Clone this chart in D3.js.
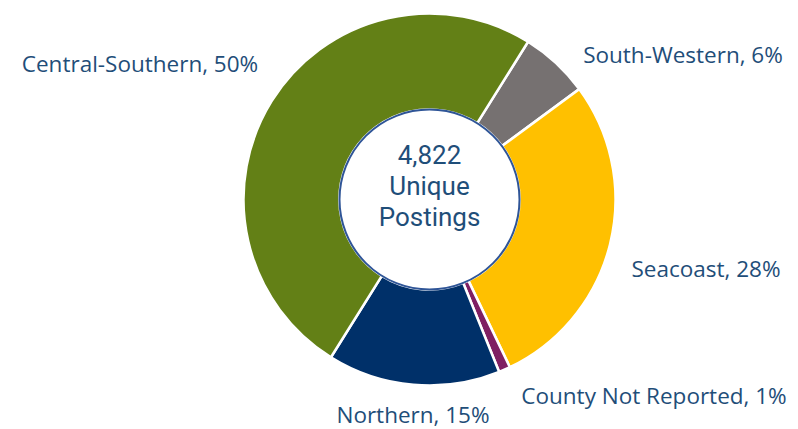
<!DOCTYPE html>
<html>
<head>
<meta charset="utf-8">
<script src="https://cdn.jsdelivr.net/npm/d3@7"></script>
<style>
  html, body { margin: 0; padding: 0; background: #fff; }
  svg { display: block; }
  text { font-family: "Open Sans", "Noto Sans", sans-serif; fill: #1F4E79; }
  text.center { font-family: Roboto, "Open Sans", sans-serif; }
</style>
</head>
<body>
<svg id="chart" width="798" height="429"></svg>
<script>
// Share of unique job postings by region
const regions = ["South-Western", "Seacoast", "County Not Reported", "Northern", "Central-Southern"];
const shares = [6, 28, 1, 15, 50];
const colors = ["#767171", "#FFC000", "#7F1F62", "#003069", "#638016"];
const totalPostings = 4822;
const centerLines = [d3.format(",")(totalPostings), "Unique", "Postings"];

// Label placement (centre x, baseline y) for each region
const labelPos = {
  "South-Western": [683, 63],
  "Seacoast": [706, 277],
  "County Not Reported": [654, 404],
  "Northern": [413, 423],
  "Central-Southern": [140, 72]
};

const svg = d3.select("#chart");
const cx = 429.5, cy = 199.5, rOuter = 186, rInner = 90;

const data = regions.map((r, i) => ({ region: r, value: shares[i], color: colors[i] }));

const pie = d3.pie()
  .value(d => d.value)
  .sort(null)
  .startAngle(32 * Math.PI / 180)
  .endAngle(32 * Math.PI / 180 + 2 * Math.PI);

const arc = d3.arc().innerRadius(rInner).outerRadius(rOuter);

const g = svg.append("g").attr("transform", `translate(${cx},${cy})`);

g.selectAll("path.slice")
  .data(pie(data))
  .join("path")
  .attr("class", "slice")
  .attr("d", arc)
  .attr("fill", d => d.data.color)
  .attr("stroke", "#fff")
  .attr("stroke-width", 2.5)
  .attr("stroke-linejoin", "round");

// Center disc
g.append("circle")
  .attr("r", rInner)
  .attr("fill", "#fff")
  .attr("stroke", "#2F5597")
  .attr("stroke-width", 2);

g.selectAll("text.center")
  .data(centerLines)
  .join("text")
  .attr("class", "center")
  .attr("text-anchor", "middle")
  .attr("x", 0)
  .attr("y", (d, i) => -36 + i * 31)
  .attr("font-size", 26)
  .text(d => d);

// Region labels
svg.selectAll("text.label")
  .data(data)
  .join("text")
  .attr("class", "label")
  .attr("text-anchor", "middle")
  .attr("x", d => labelPos[d.region][0])
  .attr("y", d => labelPos[d.region][1])
  .attr("font-size", 22.5)
  .text(d => `${d.region}, ${d.value}%`);
</script>
</body>
</html>
